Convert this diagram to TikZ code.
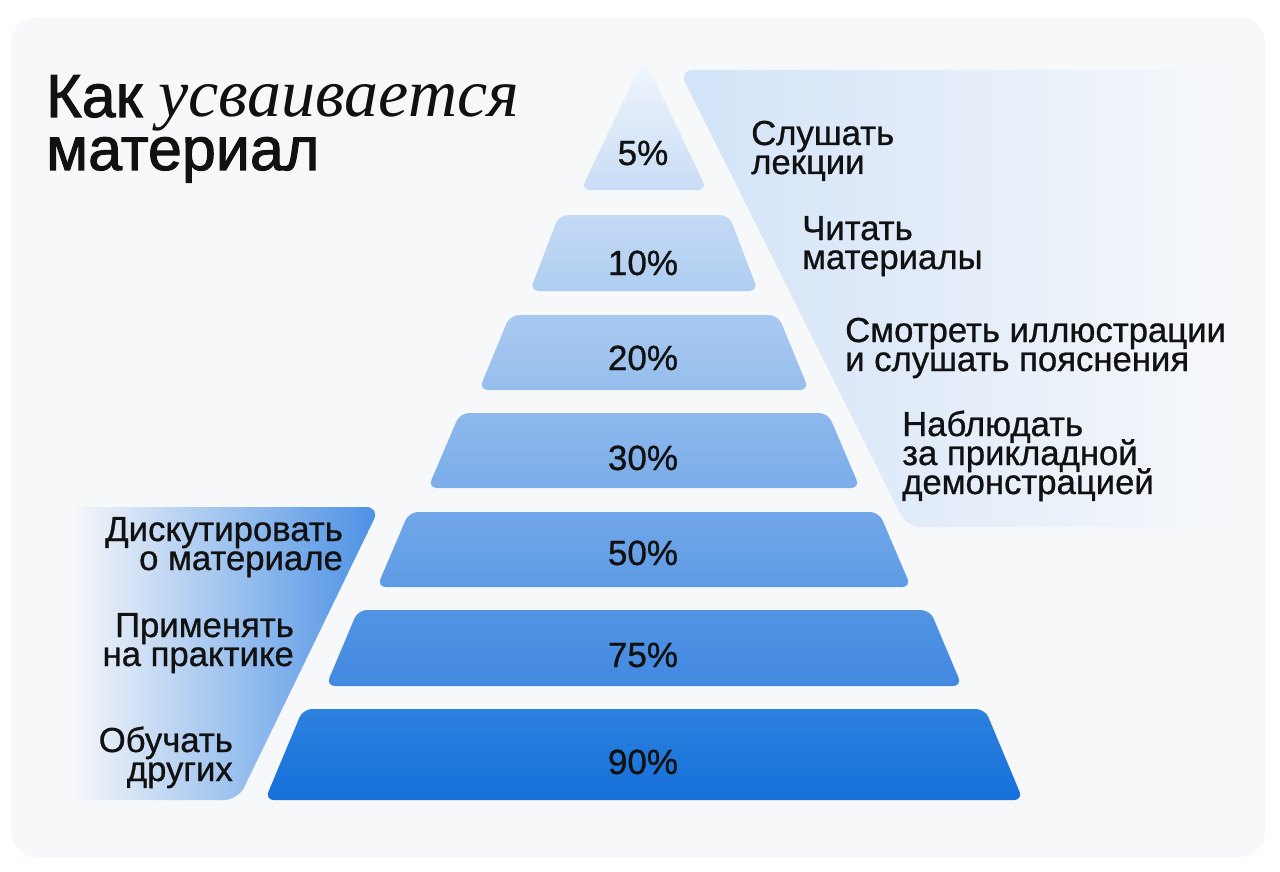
\documentclass[tikz,border=0pt]{standalone}
\usepackage{fontspec}
\newfontfamily\labfont{Liberation Sans}[FakeBold=0.8]
\newfontfamily\titfont{Liberation Sans}[FakeBold=1.7]
\newfontfamily\serfont{Liberation Serif}
\definecolor{cardbg}{HTML}{F7F8FA}
\definecolor{ink}{HTML}{111111}
\definecolor{bandR}{HTML}{D2E3F8}
\definecolor{bandL}{HTML}{4A90E4}
\definecolor{bandLm}{HTML}{8DBAEE}
\definecolor{c1t}{HTML}{F2F7FD}\definecolor{c1b}{HTML}{C8DCF5}
\definecolor{c2t}{HTML}{C4DAF5}\definecolor{c2b}{HTML}{AECDF1}
\definecolor{c3t}{HTML}{A8C9F0}\definecolor{c3b}{HTML}{96BEED}
\definecolor{c4t}{HTML}{8DB8EC}\definecolor{c4b}{HTML}{7BADE9}
\definecolor{c5t}{HTML}{71A7E8}\definecolor{c5b}{HTML}{5E9BE5}
\definecolor{c6t}{HTML}{5294E3}\definecolor{c6b}{HTML}{4289E1}
\definecolor{c7t}{HTML}{2D81DE}\definecolor{c7b}{HTML}{1570DA}
% multi-line blocks whose baseline is the first line's
\newcommand{\lblL}[1]{\vtop{\lineskiplimit=-100pt\lineskip=0pt\baselineskip=29pt\halign{##\hfil\cr #1\crcr}}}
\newcommand{\lblR}[1]{\vtop{\lineskiplimit=-100pt\lineskip=0pt\baselineskip=29pt\halign{\hfil##\cr #1\crcr}}}
\tikzset{
  layer/.style={rounded corners=9pt},
  pct/.style={font={\labfont\fontsize{35}{35}\selectfont}, text=ink, inner sep=0pt, anchor=base},
  lab/.style={font={\labfont\fontsize{34.7}{29}\selectfont}, text=ink, inner sep=0pt, anchor=base west},
  labr/.style={font={\labfont\fontsize{34.7}{29}\selectfont}, text=ink, inner sep=0pt, anchor=base east},
  ttl/.style={font={\titfont\fontsize{61}{61}\selectfont}, text=ink, inner sep=0pt, anchor=base west},
  ital/.style={font={\serfont\itshape\fontsize{68}{68}\selectfont}, text=ink, inner sep=0pt, anchor=base west}
}
\begin{document}
\begin{tikzpicture}[x=1pt,y=-1pt]
\useasboundingbox (0,0) rectangle (1280,872);
\fill[white] (0,0) rectangle (1280,872);
\fill[cardbg, rounded corners=26pt] (11,17) rectangle (1265,857);
% side bands
\shade[rounded corners=14pt, left color=bandR, right color=cardbg] (679,70) -- (1245,70) -- (1245,527) -- (907,527) -- cycle;
\shade[rounded corners=14pt, left color=cardbg, middle color=bandLm, right color=bandL] (70,507) -- (380,507) -- (238,800) -- (70,800) -- cycle;
% apex layer
\shade[rounded corners=9pt, top color=c1t, bottom color=c1b] (581,190) -- (632.5,82) .. controls (644,58) .. (655.5,82) -- (707,190) -- cycle;
\node[pct] (p1) at (643,165) {5\%};
% other layers
\foreach \i/\ytop/\ybot/\wtop/\wbot/\txt/\ly in {
  2/215/291/85/114/{10\%}/275,
  3/315/390/134/165/{20\%}/370,
  4/413/488/184/216/{30\%}/470,
  5/512/587/235/267/{50\%}/565,
  6/610/686/286/318/{75\%}/667,
  7/709/800/341/379/{90\%}/774}{
  \shade[layer, top color=c\i t, bottom color=c\i b] (644-\wbot,\ybot) -- (644-\wtop,\ytop) -- (644+\wtop,\ytop) -- (644+\wbot,\ybot) -- cycle;
  \node[pct] (p\i) at (643,\ly) {\txt};
}
% title
\node[ttl] (t1) at (46,117) {Как};
\node[ital] (t2) at (158,117) {усваивается};
\node[ttl] (t3) at (46,170) {материал};
% right labels
\node[lab] (r1) at (751,145) {\lblL{Слушать\cr лекции}};
\node[lab] (r2) at (802,240) {\lblL{Читать\cr материалы}};
\node[lab] (r3) at (845,342) {\lblL{Смотреть иллюстрации\cr и слушать пояснения}};
\node[lab] (r4) at (902,436) {\lblL{Наблюдать\cr за прикладной\cr демонстрацией}};
% left labels
\node[labr] (q1) at (343,541) {\lblR{Дискутировать\cr о материале}};
\node[labr] (q2) at (294,637) {\lblR{Применять\cr на практике}};
\node[labr] (q3) at (233,752) {\lblR{Обучать\cr других}};
\end{tikzpicture}
\end{document}
